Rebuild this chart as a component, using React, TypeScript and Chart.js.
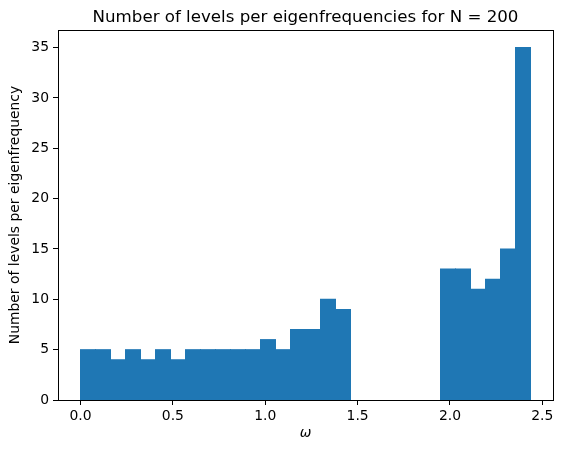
import React, { useEffect, useRef } from "react";
import { Chart, registerables } from "chart.js";

Chart.register(...registerables);

const TITLE = "Number of levels per eigenfrequencies for N = 200";
const X_LABEL = "ω";
const Y_LABEL = "Number of levels per eigenfrequency";

// histogram: 30 bins between BIN_MIN and BIN_MAX
const BIN_MIN = 0;
const BIN_MAX = 2.436;
const COUNTS = [
  5, 5, 4, 5, 4, 5, 4, 5, 5, 5, 5, 5, 6, 5, 7, 7, 10, 9,
  0, 0, 0, 0, 0, 0, 13, 13, 11, 12, 15, 35,
];
const X_TICKS = [0, 0.5, 1.0, 1.5, 2.0, 2.5];
const Y_TICKS = [0, 5, 10, 15, 20, 25, 30, 35];

const FONT = "'DejaVu Sans', sans-serif";

export default function App() {
  const ref = useRef<HTMLCanvasElement | null>(null);

  useEffect(() => {
    if (!ref.current) return;
    const n = COUNTS.length;
    const w = (BIN_MAX - BIN_MIN) / n;
    const data = COUNTS.map((c, i) => ({ x: BIN_MIN + (i + 0.5) * w, y: c > 0 ? c : null }));
    const span = BIN_MAX - BIN_MIN;
    const xMin = BIN_MIN - 0.05 * span;
    const xMax = BIN_MAX + 0.05 * span;
    const yMax = Math.max(...COUNTS) * 1.05;

    const framePlugin = {
      id: "frame",
      afterDraw(chart: any) {
        const { ctx, chartArea } = chart;
        ctx.save();
        ctx.strokeStyle = "#000";
        ctx.lineWidth = 1;
        ctx.strokeRect(
          Math.round(chartArea.left) + 0.5,
          Math.round(chartArea.top) + 0.5,
          Math.round(chartArea.right - chartArea.left),
          Math.round(chartArea.bottom - chartArea.top)
        );
        ctx.fillStyle = "#000";
        ctx.font = `16.67px ${FONT}`;
        ctx.textAlign = "center";
        ctx.textBaseline = "alphabetic";
        ctx.fillText(TITLE, (chartArea.left + chartArea.right) / 2, 22);
        ctx.restore();
      },
    };

    const chart = new Chart(ref.current, {
      type: "bar",
      data: {
        datasets: [
          {
            data: data as any,
            backgroundColor: "#1f77b4",
            borderWidth: 0,
            inflateAmount: 0.5,
            barPercentage: 1,
            categoryPercentage: 1,
          } as any,
        ],
      },
      options: {
        animation: false,
        responsive: false,
        maintainAspectRatio: false,
        layout: { padding: { left: 0, right: 10, top: 30, bottom: 0 } },
        plugins: {
          legend: { display: false },
          tooltip: { enabled: false },
          title: { display: false },
        },
        scales: {
          x: {
            type: "linear",
            min: xMin,
            max: xMax,
            offset: false,
            grid: {
              offset: false,
              drawOnChartArea: false,
              drawTicks: true,
              tickLength: 5,
              tickColor: "#000",
            },
            border: { display: true, color: "#000", width: 1 },
            afterBuildTicks: (s: any) => {
              s.ticks = X_TICKS.map((v) => ({ value: v }));
            },
            afterFit: (s: any) => {
              s.height = 453 - 400;
            },
            ticks: {
              color: "#000",
              padding: 3,
              maxRotation: 0,
              autoSkip: false,
              font: { family: FONT, size: 13.9 },
              callback: (v: any) => Number(v).toFixed(1),
            },
            title: {
              display: true,
              text: X_LABEL,
              color: "#000",
              font: { family: FONT, size: 13.9, style: "italic" },
              padding: { top: 0, bottom: 11 },
            },
          },
          y: {
            type: "linear",
            min: 0,
            max: yMax,
            grid: {
              drawOnChartArea: false,
              drawTicks: true,
              tickLength: 5,
              tickColor: "#000",
            },
            border: { display: true, color: "#000", width: 1 },
            afterBuildTicks: (s: any) => {
              s.ticks = Y_TICKS.map((v) => ({ value: v }));
            },
            afterFit: (s: any) => {
              s.width = 58;
            },
            ticks: {
              color: "#000",
              padding: 4,
              autoSkip: false,
              font: { family: FONT, size: 13.9 },
              callback: (v: any) => String(v),
            },
            title: {
              display: true,
              text: Y_LABEL,
              color: "#000",
              font: { family: FONT, size: 13.9 },
              padding: { top: 7, bottom: 0 },
            },
          },
        },
      },
      plugins: [framePlugin],
    });
    return () => chart.destroy();
  }, []);

  return (
    <div style={{ position: "fixed", left: 0, top: 0, width: 563, height: 453, background: "#fff" }}>
      <canvas ref={ref} width={563} height={453} style={{ width: 563, height: 453 }} />
    </div>
  );
}
